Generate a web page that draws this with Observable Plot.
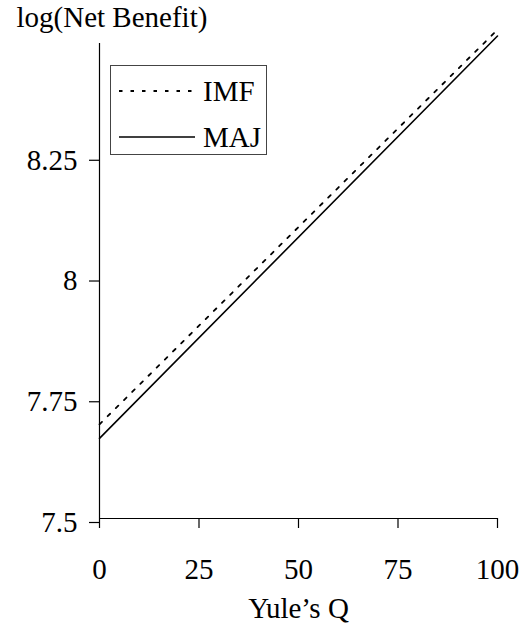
<!DOCTYPE html>
<html>
<head>
<meta charset="utf-8">
<script src="https://cdn.jsdelivr.net/npm/d3@7"></script>
<script src="https://cdn.jsdelivr.net/npm/@observablehq/plot@0.6"></script>
<style>
  html, body { margin: 0; padding: 0; background: #fff; }
  #wrap { position: relative; width: 531px; height: 625px; font-family: "Liberation Serif", "Times New Roman", Times, Tinos, "Nimbus Roman", "Nimbus Roman No9 L", FreeSerif, "Noto Serif", "DejaVu Serif", serif; color: #000; }
  #wrap svg, #wrap svg text { font-family: "Liberation Serif", "Times New Roman", Times, Tinos, "Nimbus Roman", "Nimbus Roman No9 L", FreeSerif, "Noto Serif", "DejaVu Serif", serif !important; }
  #legend { position: absolute; left: 110px; top: 65px; width: 157px; height: 90px; box-sizing: border-box; border: 1px solid #444; background: #fff; }
  .row { position: absolute; left: 0; display: flex; align-items: center; height: 30px; }
  .row svg { display: block; margin-left: 8px; }
  .row span { font-size: 29px; margin-left: 8px; line-height: 30px; }
</style>
</head>
<body>
<div id="wrap"></div>
<script>
// ---- data ----
const xValues = [0, 100];                 // Yule's Q
const imfValues = [7.695, 8.512];         // log(Net Benefit), IMF
const majValues = [7.666, 8.499];         // log(Net Benefit), MAJ
const seriesNames = ["IMF", "MAJ"];
const xTicks = [0, 25, 50, 75, 100];
const yTicks = [7.5, 7.75, 8, 8.25];
const yTickLabels = ["7.5", "7.75", "8", "8.25"];
const xDomain = [0, 100];
const yDomain = [7.5, 8.4835];
const xTitle = "Yule\u2019s Q";
const yTitle = "log(Net Benefit)";

const rows = [];
xValues.forEach((x, i) => {
  rows.push({series: seriesNames[0], x, y: imfValues[i]});
  rows.push({series: seriesNames[1], x, y: majValues[i]});
});

const chart = Plot.plot({
  width: 531,
  height: 625,
  marginLeft: 99,
  marginRight: 34,
  marginTop: 43,
  marginBottom: 107,
  style: {fontSize: "29px", background: "#fff", color: "#000", overflow: "visible"},
  x: {domain: xDomain},
  y: {domain: yDomain},
  marks: [
    Plot.axisY({ticks: yTicks, tickFormat: (d) => yTickLabels[yTicks.indexOf(d)], tickSize: 10, tickPadding: 12, label: null, dy: 4, stroke: "#000", strokeWidth: 1.2}),
    Plot.axisX({ticks: xTicks, tickFormat: (d) => String(d), tickSize: 10, tickPadding: 30, label: null, stroke: "#000", strokeWidth: 1.2}),
    Plot.ruleX([xDomain[0]], {y1: yDomain[0], y2: yDomain[1], stroke: "#000", strokeWidth: 1.2}),
    Plot.ruleY([yDomain[0]], {x1: xDomain[0], x2: xDomain[1], stroke: "#000", strokeWidth: 1.2}),
    Plot.line(rows.filter(d => d.series === "MAJ"), {x: "x", y: "y", stroke: "#000", strokeWidth: 1.6}),
    Plot.line(rows.filter(d => d.series === "IMF"), {x: "x", y: "y", stroke: "#000", strokeWidth: 1.8, strokeDasharray: "3.5,8"}),
    Plot.text([yTitle], {frameAnchor: "top-left", dx: -83, dy: -17, textAnchor: "start", lineAnchor: "bottom"}),
    Plot.text([xTitle], {frameAnchor: "bottom", dy: 99, lineAnchor: "bottom"})
  ]
});

const wrap = document.getElementById("wrap");
wrap.appendChild(chart);

// legend (inside plot area, drawn as HTML overlay)
const legend = document.createElement("div");
legend.id = "legend";
const legendItems = [
  {name: seriesNames[0], dash: "3.5,8", top: 10},
  {name: seriesNames[1], dash: null, top: 56}
];
legendItems.forEach(item => {
  const row = document.createElement("div");
  row.className = "row";
  row.style.top = item.top + "px";
  row.innerHTML = `<svg width="76" height="6"><line x1="0" x2="76" y1="3" y2="3" stroke="#000" stroke-width="${item.dash ? 1.8 : 1.6}" ${item.dash ? `stroke-dasharray="${item.dash}"` : ""}/></svg><span>${item.name}</span>`;
  legend.appendChild(row);
});
wrap.appendChild(legend);
</script>
</body>
</html>
